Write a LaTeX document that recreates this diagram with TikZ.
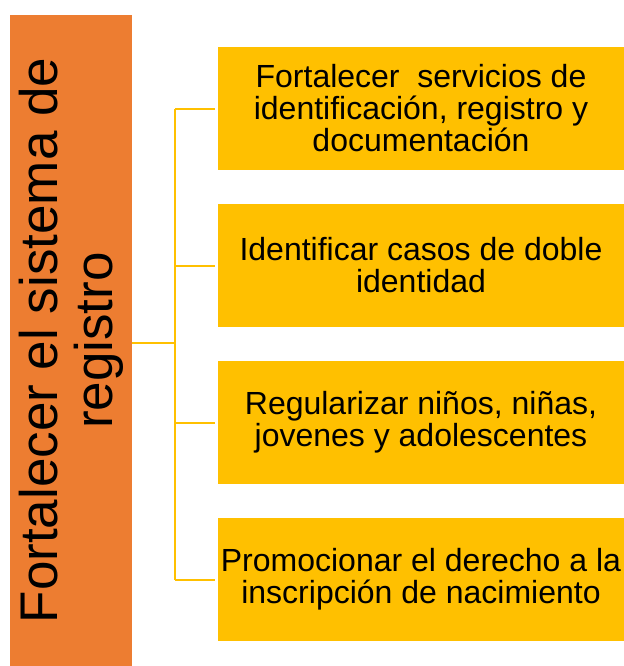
\documentclass[tikz,border=0pt]{standalone}
\usepackage{fontspec}
\setmainfont{Liberation Sans}
\usetikzlibrary{positioning}
\usepackage{xcolor}
\definecolor{goalorange}{HTML}{ED7D31}
\definecolor{actionyellow}{HTML}{FFC000}
\tikzset{goal/.style={fill=goalorange, minimum width=61pt, minimum height=325.5pt, inner sep=0pt},
         goaltext/.style={align=center, inner sep=0pt, font=\fontsize{26.5}{27.5}\selectfont},
         action/.style={fill=actionyellow, minimum width=203pt, minimum height=61.5pt,
                        inner sep=0pt, align=center, font=\fontsize{16}{16}\selectfont},
         branch/.style={draw=actionyellow, line width=1pt}}

\begin{document}
\begin{tikzpicture}[x=0.5pt, y=-0.5pt]
    \useasboundingbox (0,0) rectangle (624,666);
    % Nodes
    \node[goal] (goal) at (71,340.5) {};
    \node[goaltext, rotate=90] (goallabel) at (goal.center) {Fortalecer el sistema de\\registro};
    \node[action] (a1) at (421,108.5) {Fortalecer\ \ servicios de\\identificación, registro y\\documentación};
    \node[action] (a2) at (421,265.5) {Identificar casos de doble\\identidad};
    \node[action] (a3) at (421,422.5) {Regularizar niños, niñas,\\jovenes y adolescentes};
    \node[action] (a4) at (421,579.5) {Promocionar el derecho a la\\inscripción de nacimiento};
    \coordinate (split) at (175,343);

    % Trunk from the goal box
    \draw[branch] (goal.east |- split) -- (split);
    \draw[branch] (split |- a1) -- (split |- a4);

    % Branches to each action
    \draw[branch, shorten >=1.5pt] (split |- a1) -- (a1.west);
    \draw[branch, shorten >=1.5pt] (split |- a2) -- (a2.west);
    \draw[branch, shorten >=1.5pt] (split |- a3) -- (a3.west);
    \draw[branch, shorten >=1.5pt] (split |- a4) -- (a4.west);
\end{tikzpicture}
\end{document}
